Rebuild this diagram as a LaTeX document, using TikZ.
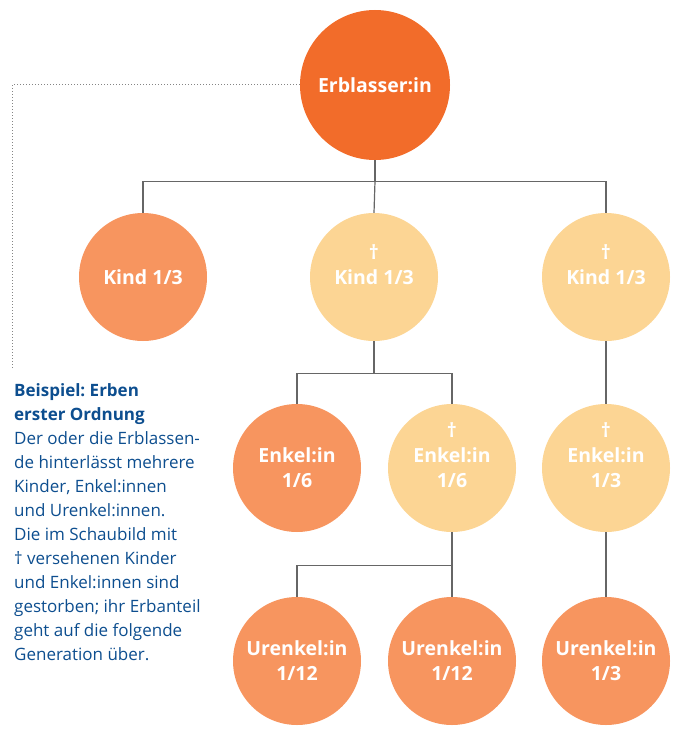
\documentclass[tikz,border=0pt]{standalone}
\usepackage{fontspec}
\setmainfont{Open Sans}
\frenchspacing
\definecolor{erbfarbe}{HTML}{F26C2A}
\definecolor{lebfarbe}{HTML}{F7955F}
\definecolor{totfarbe}{HTML}{FCD594}
\definecolor{linie}{HTML}{666666}
\definecolor{textblau}{HTML}{0D4E8F}
\begin{document}
\begin{tikzpicture}[x=1pt,y=-1pt]
\tikzstyle{person}=[circle,inner sep=0pt,minimum size=128pt,text=white,align=center,font=\fontsize{19.5}{25}\selectfont\bfseries]
\tikzstyle{erblasser}=[person,fill=erbfarbe,minimum size=150pt]
\tikzstyle{lebend}=[person,fill=lebfarbe]
\tikzstyle{verstorben}=[person,fill=totfarbe,label={[text=white,font=\fontsize{19.5}{25}\selectfont\bfseries,yshift=#1]center:†}]
\tikzstyle{ast}=[draw=linie,line width=1.2pt]
\useasboundingbox (0,0) rectangle (674,730);
% Erblasser:in
\node[erblasser] (erbl) at (375,85) {Erblasser:in};
% Kinder
\node[lebend] (k1) at (143,277) {Kind 1/3};
\node[verstorben=25pt] (k2) at (374,277) {Kind 1/3};
\node[verstorben=25pt] (k3) at (606,277) {Kind 1/3};
% Enkel:innen
\node[lebend] (e1) at (297,468) {Enkel:in\\1/6};
\node[verstorben=38pt] (e2) at (452,468) {Enkel:in\\1/6};
\node[verstorben=38pt] (e3) at (606,468) {Enkel:in\\1/3};
% Urenkel:innen
\node[lebend] (u1) at (297,661) {Urenkel:in\\1/12};
\node[lebend] (u2) at (452,661) {Urenkel:in\\1/12};
\node[lebend] (u3) at (606,661) {Urenkel:in\\1/3};
% Linien
\draw[ast] (erbl.south) -- ++(0,21) coordinate (j1);
\draw[ast] (j1) -| (k1.north);
\draw[ast] (j1) -| (k3.north);
\draw[ast] (j1) -- (k2.north);
\draw[ast] (k2.south) -- ++(0,32) coordinate (j2);
\draw[ast] (j2) -| (e1.north);
\draw[ast] (j2) -| (e2.north);
\draw[ast] (k3.south) -- (e3.north);
\draw[ast] (e2.south) -- ++(0,33) coordinate (j3);
\draw[ast] (j3) -| (u1.north);
\draw[ast] (j3) -- (u2.north);
\draw[ast] (e3.south) -- (u3.north);
% Hinweis
\coordinate (eck) at (12,85);
\coordinate (ende) at (12,370);
\draw[linie!80,dotted,line width=1pt] (erbl.west) -- (eck) -- (ende);
\node[anchor=base west,align=left,text=textblau,inner sep=0pt,font=\fontsize{17}{24}\selectfont] (info) at (14,660)
{\textbf{Beispiel: Erben}\\\textbf{erster Ordnung}\\Der oder die Erblassen-\\de hinterlässt mehrere\\Kinder, Enkel:innen\\und Urenkel:innen.\\Die im Schaubild mit\\† versehenen Kinder\\und Enkel:innen sind\\gestorben; ihr Erbanteil\\geht auf die folgende\\Generation über.};
\end{tikzpicture}
\end{document}
